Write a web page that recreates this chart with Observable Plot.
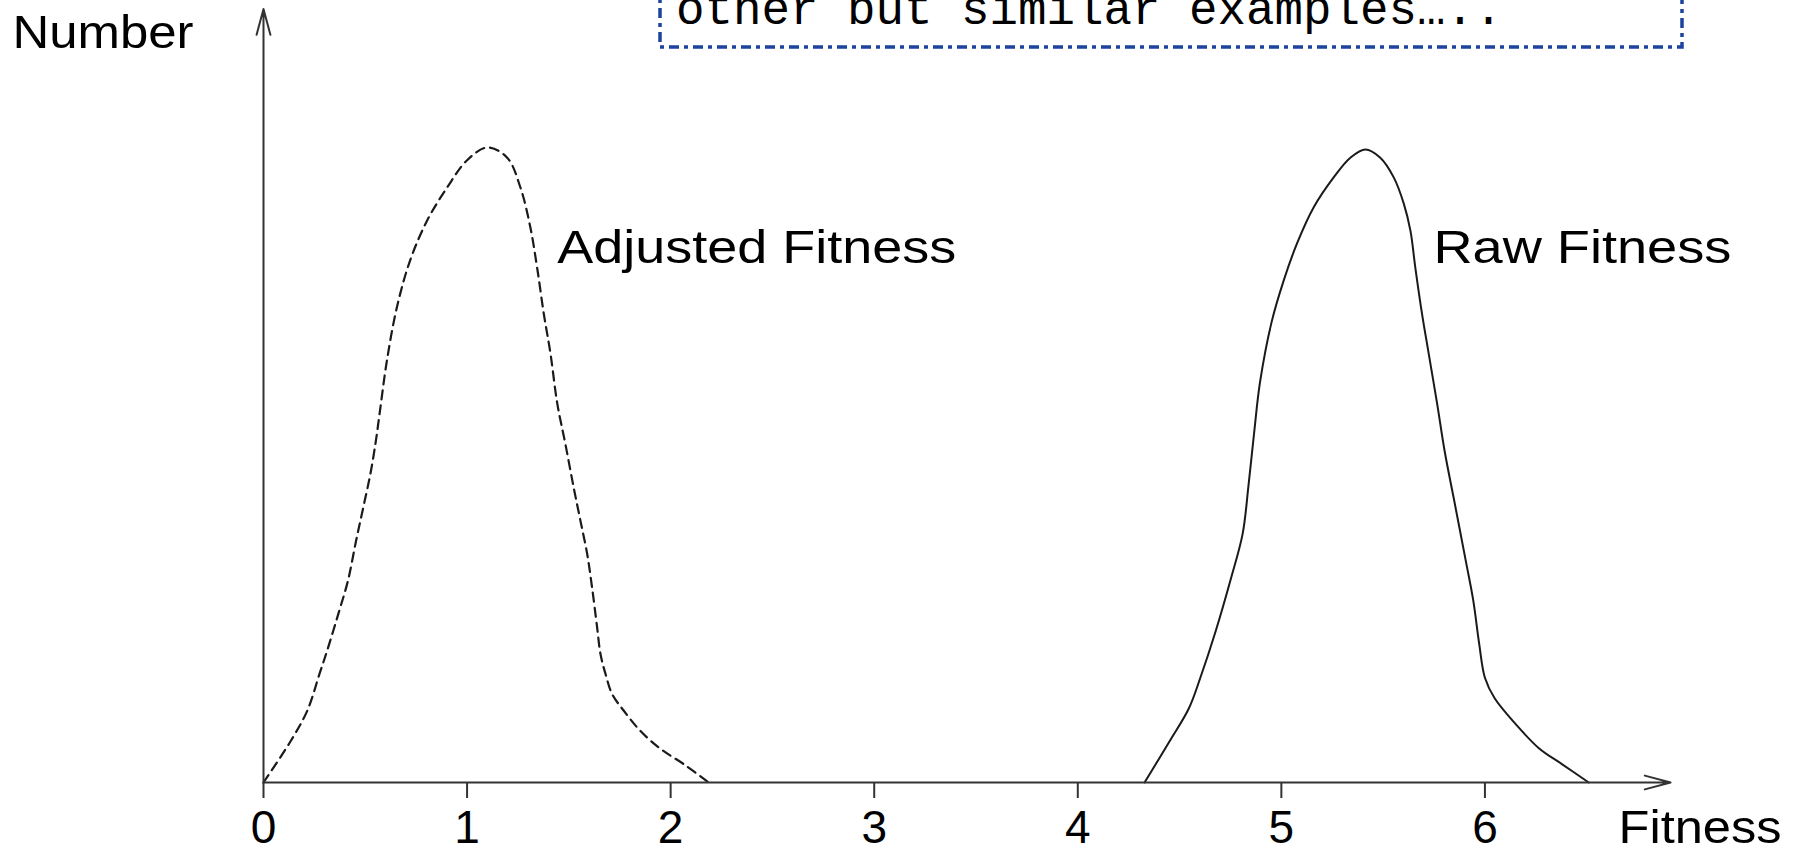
<!DOCTYPE html>
<html>
<head>
<meta charset="utf-8">
<script src="https://cdn.jsdelivr.net/npm/d3@7"></script>
<script src="https://cdn.jsdelivr.net/npm/@observablehq/plot@0.6"></script>
<style>
  html, body { margin: 0; padding: 0; background: #fff; overflow: hidden; }
  #chart svg { max-width: none; }
</style>
</head>
<body>
<div id="chart"></div>
<script>
// ---- data ----
const adjustedX = [0, 0.133, 0.215, 0.275, 0.312, 0.368, 0.415, 0.455, 0.490, 0.525, 0.552, 0.572, 0.606, 0.655, 0.720, 0.804, 0.902, 1.000, 1.099, 1.197, 1.262, 1.311, 1.344, 1.377, 1.410, 1.443, 1.483, 1.524, 1.557, 1.590, 1.614, 1.639, 1.655, 1.680, 1.713, 1.770, 1.852, 1.950, 2.064, 2.187];
const adjustedY = [0, 6.5, 11.3, 17.1, 20.7, 26.6, 31.8, 38.1, 43.3, 48.6, 53.8, 58.5, 66.4, 74.8, 82.2, 88.5, 93.7, 98.0, 100, 98.4, 93.7, 87.4, 81.1, 73.8, 67.5, 59.7, 53.3, 46.4, 41.2, 36.0, 30.7, 24.4, 20.3, 17.1, 13.9, 11.3, 8.1, 5.3, 2.9, 0];
const rawX = [4.328, 4.451, 4.546, 4.602, 4.678, 4.753, 4.810, 4.838, 4.866, 4.895, 4.952, 5.011, 5.077, 5.159, 5.257, 5.339, 5.413, 5.486, 5.552, 5.601, 5.634, 5.658, 5.691, 5.724, 5.765, 5.802, 5.849, 5.906, 5.943, 5.972, 6.000, 6.047, 6.151, 6.265, 6.378, 6.510];
const rawY = [0, 6.5, 11.7, 16.5, 23.9, 32.2, 39.2, 46.6, 55.0, 63.0, 72.5, 79.0, 84.9, 90.6, 95.3, 98.4, 99.7, 98.4, 95.3, 91.2, 86.9, 81.1, 73.8, 67.5, 59.7, 52.2, 44.4, 34.9, 28.6, 21.8, 16.5, 13.3, 9.2, 5.4, 2.9, 0];
const xTicks = [0, 1, 2, 3, 4, 5, 6];
const xTickLabels = ["0", "1", "2", "3", "4", "5", "6"];
const curveLabelText = ["Adjusted Fitness", "Raw Fitness"];
const curveLabelX = [1.443, 5.747];
const curveLabelY = [84.1, 84.1];
const yAxisTitle = "Number";
const xAxisTitle = "Fitness";
const noteText = "other but similar examples\u2026..";
const xArrowEnd = 6.912;
const yArrowEnd = 121.8;

// ---- tables built from the arrays ----
const adjusted = adjustedX.map((x, i) => ({x, y: adjustedY[i]}));
const raw = rawX.map((x, i) => ({x, y: rawY[i]}));
const curveLabels = curveLabelText.map((t, i) => ({text: t, x: curveLabelX[i], y: curveLabelY[i]}));
const axisArrows = [
  {x1: 0, y1: 0, x2: xArrowEnd, y2: 0},
  {x1: 0, y1: 0, x2: 0, y2: yArrowEnd}
];

const FONT = "'Liberation Sans', Arial, Helvetica, sans-serif";

const chart = Plot.plot({
  width: 1812,
  height: 852,
  marginLeft: 263,
  marginRight: 124,
  marginTop: 20,
  marginBottom: 70,
  x: {domain: [0, 7]},
  y: {domain: [0, 120], axis: null},
  style: {fontFamily: FONT, fontSize: "46px", color: "#000", background: "#fff"},
  marks: [
    Plot.line(adjusted, {x: "x", y: "y", curve: "catmull-rom", stroke: "#1a1a1a", strokeWidth: 2.2, strokeDasharray: "9,6"}),
    Plot.line(raw, {x: "x", y: "y", curve: "catmull-rom", stroke: "#1a1a1a", strokeWidth: 2}),
    Plot.axisX({
      ticks: xTicks,
      tickFormat: d => xTickLabels[xTicks.indexOf(d)],
      tickSize: 16,
      tickPadding: 12,
      fontSize: 46,
      stroke: "#333",
      strokeWidth: 2,
      label: null
    }),
    Plot.arrow(axisArrows, {x1: "x1", y1: "y1", x2: "x2", y2: "y2", stroke: "#333", strokeWidth: 2, headLength: 20, headAngle: 30}),
    Plot.text(curveLabels, {x: "x", y: "y", text: "text", textAnchor: "start", lineAnchor: "middle", fontSize: 46, fill: "#000"}),
    Plot.text([yAxisTitle], {text: d => d, frameAnchor: "top-left", dx: -251, dy: 13, textAnchor: "start", lineAnchor: "middle", fontSize: 46, fill: "#000"}),
    Plot.text([xAxisTitle], {text: d => d, frameAnchor: "bottom-right", dx: -70, dy: 46, textAnchor: "start", lineAnchor: "middle", fontSize: 46, fill: "#000"})
  ]
});

// the reference lettering is horizontally wider than the font: stretch to the measured widths
const labelWidths = {"Number": 181, "Adjusted Fitness": 399, "Raw Fitness": 298, "Fitness": 163};
d3.select(chart).selectAll("text").each(function () {
  const w = labelWidths[this.textContent];
  if (w) {
    this.setAttribute("textLength", w);
    this.setAttribute("lengthAdjust", "spacingAndGlyphs");
  }
});

// annotation box at the top (cut off by the picture edge)
const note = d3.select(chart).append("g");
note.append("rect")
  .attr("x", 660).attr("y", -40).attr("width", 1022).attr("height", 87)
  .attr("fill", "none").attr("stroke", "#1d43a0").attr("stroke-width", 3.5)
  .attr("stroke-dasharray", "10,5,4,5");
note.append("text")
  .attr("x", 676).attr("y", 24)
  .attr("text-anchor", "start")
  .attr("font-family", "'Liberation Mono', 'Courier New', monospace")
  .attr("font-size", 47.5)
  .attr("fill", "#000")
  .text(noteText);

document.getElementById("chart").appendChild(chart);
</script>
</body>
</html>
